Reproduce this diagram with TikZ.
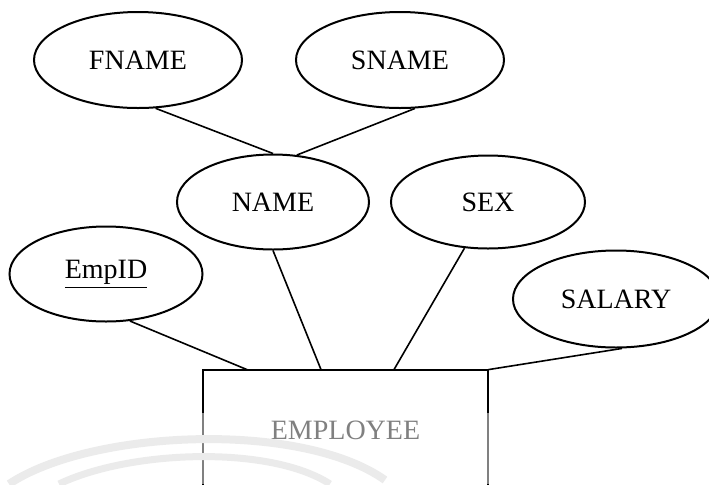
\documentclass[tikz,border=0pt]{standalone}
\usepackage{fontspec}
\setmainfont{Liberation Serif}
\usepackage{tikz}
\usetikzlibrary{shapes.geometric}

\tikzset{
  attr/.style={draw,ellipse,line width=1pt,inner sep=0pt},
  link/.style={line width=0.8pt}
}

\begin{document}
\begin{tikzpicture}[x=0.5pt,y=-0.5pt,font=\fontsize{14}{16}\selectfont]
  \useasboundingbox (0,0) rectangle (709,484);
  \clip (0,0) rectangle (709,484);
  \node[attr,minimum width=104pt,minimum height=48pt] (fname) at (138,60) {FNAME};
  \node[attr,minimum width=104pt,minimum height=48pt] (sname) at (400,60) {SNAME};
  \node[attr,minimum width=96pt,minimum height=47.5pt] (name) at (273,202) {NAME};
  \node[attr,minimum width=97pt,minimum height=46.5pt] (sex) at (488,202) {SEX};
  \node[attr,minimum width=96.5pt,minimum height=47.5pt] (empid) at (106,274) {\underline{EmpID}};
  \node[attr,minimum width=103pt,minimum height=48.5pt] (salary) at (616,299) {SALARY};
  \node[minimum width=142.5pt,minimum height=60pt,inner sep=0pt] (emp) at (345.5,430) {EMPLOYEE};
  \draw[line width=1pt] (emp.south west) -- (emp.north west) -- (emp.north east) -- (emp.south east);
  \draw[link] (fname.290) -- (name.north);
  \draw[link] (sname.287) -- (name.63);
  \draw[link] (empid.297) -- (emp.north west -| 247,0);
  \draw[link] (name.south) -- (emp.north west -| 321,0);
  \draw[link] (sex.243) -- (emp.north west -| 394,0);
  \draw[link] (salary.277) -- (emp.north east);
  \fill[white,opacity=0.5] (0,413) rectangle (709,484);
  \draw[black!8,line width=4pt] (9,484) .. controls (90,430) and (300,420) .. (385,480);
  \draw[black!8,line width=3.5pt] (59,484) .. controls (130,450) and (270,445) .. (330,484);
\end{tikzpicture}
\end{document}
